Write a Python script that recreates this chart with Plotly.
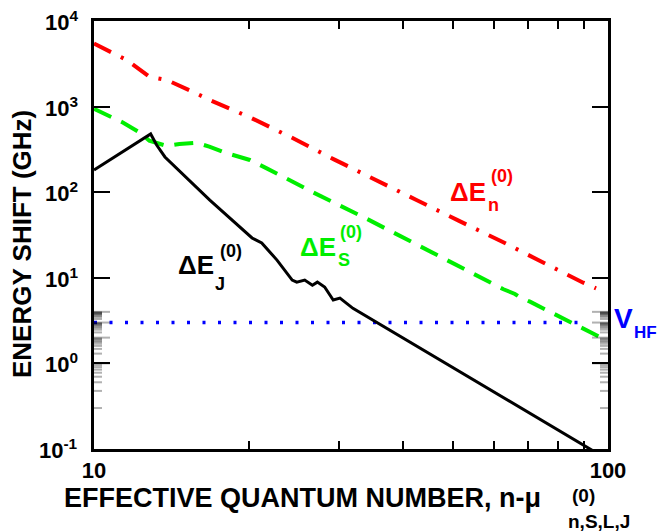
import math
import plotly.graph_objects as go
from plotly.subplots import make_subplots

# ---- data ----
ej_x = [10.0, 12.89, 13.24, 13.74, 16.8, 20.3, 21.2, 22.7, 24.3, 24.8, 25.7, 26.6, 27.2, 28.1, 29.2, 30.1, 31.9, 92.2, 100.0]
ej_y = [182, 479, 356, 258, 81, 29.2, 25.5, 16.1, 9.4, 8.9, 9.4, 8.2, 8.9, 7.8, 5.5, 5.8, 4.4, 0.1, 0.075]

en_x = [10.0, 11.58, 12.81, 13.85, 15.56, 16.8, 20.1, 24.4, 29.3, 35.2, 42.4, 51.2, 61.7, 89.5, 94.8]
en_y = [5450, 3500, 2235, 2046, 1493, 1194, 750, 427, 242, 139, 81, 46.5, 27.1, 8.77, 7.53]

es_x = [10.0, 11.4, 12.29, 12.81, 13.85, 14.66, 15.84, 16.76, 17.98, 20.1, 21.68, 26.3, 33.8, 38.2, 48.9, 62.6, 65.9, 67.4, 70.5, 80.1, 96.5]
es_y = [940, 649, 495, 400, 347, 366, 378, 341, 290, 238, 190, 104, 49.5, 33.7, 15.7, 7.35, 6.47, 5.92, 5.26, 3.58, 2.03]

vhf_x = [10.0, 92.0]
vhf_y = [3.0, 3.0]

x_tickvals = [10, 20, 30, 40, 50, 60, 70, 80, 90, 100]
x_ticktext = ["10", "", "", "", "", "", "", "", "", "100"]
x_minor = [20, 30, 40, 50, 60, 70, 80, 90]
y_tickvals = [0.1, 1, 10, 100, 1000, 10000]
y_ticktext = ["10<sup>-1</sup>", "10<sup>0</sup>", "10<sup>1</sup>", "10<sup>2</sup>", "10<sup>3</sup>", "10<sup>4</sup>"]
y_minor = [m * 10.0 ** e for e in range(-1, 4) for m in range(2, 10)]

X_RANGE = [1, 2]
Y_RANGE = [-1, 4]

FONT = "Liberation Sans, Arial, sans-serif"

fig = make_subplots(rows=1, cols=1)
fig.add_trace(go.Scatter(x=vhf_x, y=vhf_y, mode="lines",
                         line=dict(color="#0000ff", width=3.5, dash="3px,12.5px")), row=1, col=1)
fig.add_trace(go.Scatter(x=en_x, y=en_y, mode="lines",
                         line=dict(color="#ff0000", width=4, dash="19px,11px,3px,11px")), row=1, col=1)
fig.add_trace(go.Scatter(x=es_x, y=es_y, mode="lines",
                         line=dict(color="#00ee00", width=4, dash="19px,11px")), row=1, col=1)
fig.add_trace(go.Scatter(x=ej_x, y=ej_y, mode="lines",
                         line=dict(color="#000000", width=3)), row=1, col=1)

fig.update_xaxes(type="log", range=X_RANGE, tickvals=x_tickvals, ticktext=x_ticktext,
                 ticks="inside", ticklen=8, tickwidth=2, tickcolor="black",
                 showline=True, linecolor="black", linewidth=3, mirror="ticks",
                 showgrid=False, zeroline=False, automargin=False,
                 tickfont=dict(family=FONT, size=22, color="black", weight="bold"),
                 row=1, col=1)
fig.update_yaxes(type="log", range=Y_RANGE, tickvals=y_tickvals, showticklabels=False,
                 ticks="inside", ticklen=16, tickwidth=2, tickcolor="black",
                 showline=True, linecolor="black", linewidth=3, mirror="ticks",
                 showgrid=False, zeroline=False, automargin=False,
                 row=1, col=1)

L, R, T, B = 94, 52, 21, 82
W, H = 660, 531
PW, PH = W - L - R, H - T - B
MAJ, MIN = 16, 8

# tick marks on all four sides, placed at the axis tick values (log axis -> log10 positions)
tick_line = dict(color="black", width=2)
for v in x_minor:
    lx = math.log10(v)
    fig.add_shape(type="line", xref="x", yref="paper", x0=lx, x1=lx, y0=0, y1=MIN / PH, line=tick_line)
    fig.add_shape(type="line", xref="x", yref="paper", x0=lx, x1=lx, y0=1, y1=1 - MIN / PH, line=tick_line)
for vals, ln in ((y_tickvals, MAJ), (y_minor, MIN)):
    for v in vals:
        ly = math.log10(v)
        fig.add_shape(type="line", xref="paper", yref="y", x0=0, x1=ln / PW, y0=ly, y1=ly, line=tick_line)
        fig.add_shape(type="line", xref="paper", yref="y", x0=1, x1=1 - ln / PW, y0=ly, y1=ly, line=tick_line)

# y tick labels (with superscript exponents) placed at the axis tick values
for v, t in zip(y_tickvals, y_ticktext):
    fig.add_annotation(text=t, x=-14 / PW, y=(math.log10(v) - Y_RANGE[0]) / (Y_RANGE[1] - Y_RANGE[0]),
                       xref="paper", yref="paper", xanchor="right", yanchor="middle",
                       showarrow=False,
                       font=dict(family=FONT, size=22, color="black", weight="bold"))


def P(px, py):
    return (px - L) / PW, (H - B - py) / PH


def label(text, px, py, size, color, anchor="left"):
    x, y = P(px, py)
    fig.add_annotation(text=text, x=x, y=y, xref="paper", yref="paper",
                       xanchor=anchor, yanchor="middle", showarrow=False,
                       font=dict(family=FONT, size=size, color=color, weight="bold"))


# curve labels
label("ΔE", 448, 192, 26, "#ff0000")
label("n", 486, 205, 18, "#ff0000")
label("(0)", 489, 176, 18, "#ff0000")

label("ΔE", 298, 247, 26, "#00ee00")
label("S", 336, 260, 18, "#00ee00")
label("(0)", 338, 232, 18, "#00ee00")

label("ΔE", 176, 265, 26, "#000000")
label("J", 213, 284, 18, "#000000")
label("(0)", 218, 251, 18, "#000000")

label("V", 612, 318, 28, "#0000ff")
label("HF", 632, 332, 17, "#0000ff")

# axis titles
label("EFFECTIVE QUANTUM NUMBER, n-μ", 62, 498, 27, "#000000")
label("n,S,L,J", 566, 521, 19, "#000000")
label("(0)", 570, 495, 19, "#000000")

xt, yt = P(22, 244)
fig.add_annotation(text="ENERGY SHIFT (GHz)", x=xt, y=yt, xref="paper", yref="paper",
                   xanchor="center", yanchor="middle", showarrow=False, textangle=-90,
                   font=dict(family=FONT, size=26, color="black", weight="bold"))

fig.update_layout(
    template="simple_white",
    width=W, height=H, margin=dict(l=L, r=R, t=T, b=B),
    paper_bgcolor="white", plot_bgcolor="white", showlegend=False,
)

fig.write_html("out.html", config={"displayModeBar": False},
               post_script="document.body.style.margin='0';")
